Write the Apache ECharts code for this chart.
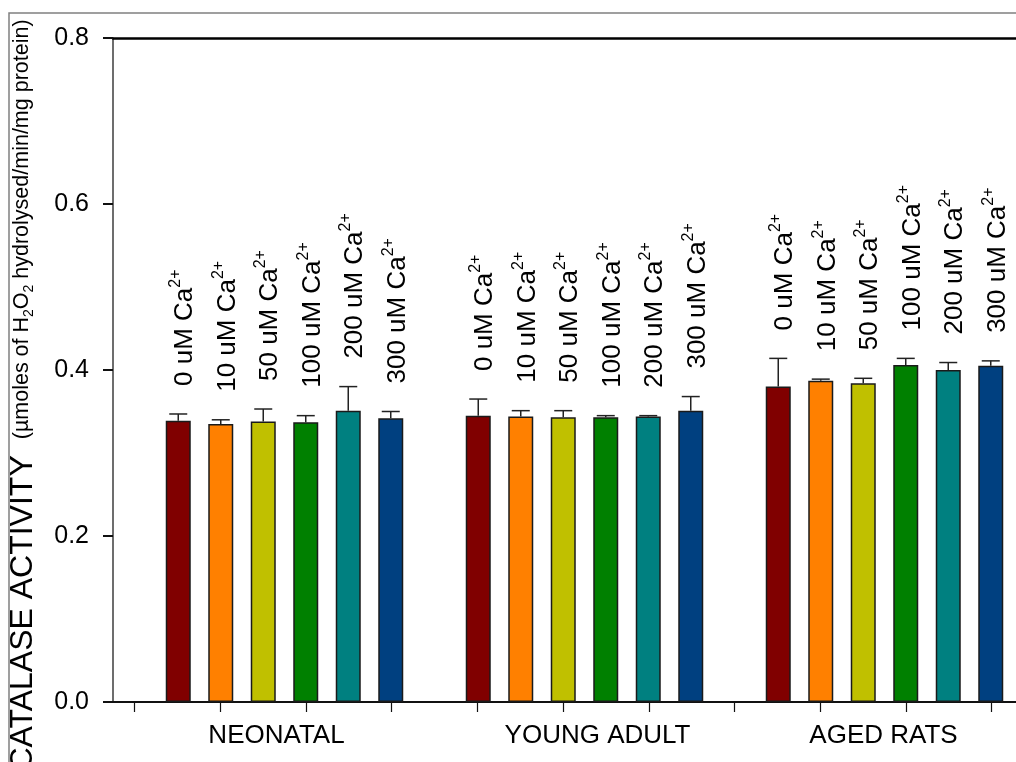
<!DOCTYPE html>
<html>
<head>
<meta charset="utf-8">
<title>Catalase activity</title>
<script src="https://cdn.jsdelivr.net/npm/echarts@6/dist/echarts.min.js"></script>
<style>
html, body { margin: 0; padding: 0; background: #fff; }
#chart { width: 1016px; height: 762px; }
</style>
</head>
<body>
<div id="chart"></div>
<script>
// age groups on the x axis
var groups = ["NEONATAL", "YOUNG ADULT", "AGED RATS"];
// Ca2+ concentrations (uM), one bar each inside a group
var concs = ["0", "10", "50", "100", "200", "300"];
var colors = ["#800000", "#FF8000", "#C0C000", "#008000", "#008080", "#004080"];

// mean activity per concentration: [neonatal, young adult, aged]
var ca0 = [0.339, 0.345, 0.380];
var ca10 = [0.335, 0.344, 0.387];
var ca50 = [0.338, 0.343, 0.384];
var ca100 = [0.337, 0.343, 0.406];
var ca200 = [0.351, 0.344, 0.400];
var ca300 = [0.342, 0.351, 0.405];

// upper error bars
var err0 = [0.008, 0.020, 0.034];
var err10 = [0.005, 0.007, 0.002];
var err50 = [0.015, 0.008, 0.006];
var err100 = [0.008, 0.002, 0.008];
var err200 = [0.029, 0.001, 0.009];
var err300 = [0.008, 0.017, 0.006];

// tick marks along the bottom axis
var xTickValues = [0, 1, 2, 3, 4, 5, 6, 7, 8, 9, 10];

var means = [ca0, ca10, ca50, ca100, ca200, ca300];
var errs = [err0, err10, err50, err100, err200, err300];

var barW = 25;
var barGap = 0.7;
var step = barW * (1 + barGap);
var font = "'Liberation Sans', Arial, sans-serif";
// the group names are not quite centred under their bars
var labelPad = [[0, 16, 0, 0], [0, 0, 0, 26], [0, 2, 0, 0]];

let chartDom = document.getElementById("chart");
let myChart = echarts.init(chartDom);

let series = concs.map(function (c, i) {
  return {
    name: c + " uM Ca2+",
    type: "bar",
    xAxisIndex: 2,
    yAxisIndex: 1,
    barWidth: barW,
    barGap: barGap * 100 + "%",
    itemStyle: { color: colors[i], borderColor: "#1a1a1a", borderWidth: 1.5 },
    data: means[i],
    z: 2
  };
});

let errData = [];
for (let i = 0; i < concs.length; i++) {
  for (let g = 0; g < groups.length; g++) {
    errData.push([g, i, means[i][g], means[i][g] + errs[i][g]]);
  }
}

series.push({
  type: "custom",
  xAxisIndex: 2,
  yAxisIndex: 1,
  z: 5,
  data: errData,
  encode: { x: 0, y: 3 },
  renderItem: function (params, api) {
    let g = api.value(0);
    let i = api.value(1);
    let base = api.coord([g, api.value(2)]);
    let top = api.coord([g, api.value(3)]);
    let x = base[0] + (i - 2.5) * step;
    let cap = 9;
    return {
      type: "group",
      children: [
        { type: "line", shape: { x1: x, y1: base[1], x2: x, y2: top[1] },
          style: { stroke: "#222", lineWidth: 1.5 } },
        { type: "line", shape: { x1: x - cap, y1: top[1], x2: x + cap, y2: top[1] },
          style: { stroke: "#222", lineWidth: 1.5 } },
        {
          type: "text",
          x: x + 7,
          y: top[1] - 28,
          rotation: Math.PI / 2,
          style: {
            text: "{t|" + concs[i] + " uM Ca}{s|2+}",
            align: "left",
            verticalAlign: "middle",
            rich: {
              t: { fontSize: 26, fontFamily: font, fill: "#000", lineHeight: 35 },
              s: { fontSize: 16, fontFamily: font, fill: "#000", lineHeight: 16, verticalAlign: "top" }
            }
          }
        }
      ]
    };
  }
});

let option = {
  animation: false,
  textStyle: { fontFamily: font, color: "#000" },
  graphic: [
    {
      type: "rect",
      silent: true,
      shape: { x: 9, y: 13, width: 1200, height: 900 },
      style: { fill: "none", stroke: "#808080", lineWidth: 1.5 }
    }
  ],
  grid: [
    { left: 113, top: 38, width: 921.5, bottom: 60, outerBoundsMode: "none", containLabel: false },
    { left: 134.5, top: 38, width: 900, bottom: 60, outerBoundsMode: "none", containLabel: false }
  ],
  xAxis: [
    {
      gridIndex: 0,
      type: "value",
      min: -0.25,
      max: 10.5,
      position: "bottom",
      axisLine: { show: true, onZero: false, lineStyle: { color: "#111", width: 2 } },
      axisTick: { show: true, length: 10, customValues: xTickValues, lineStyle: { color: "#111", width: 1.2 } },
      axisLabel: { show: false },
      splitLine: { show: false }
    },
    {
      gridIndex: 0,
      type: "value",
      min: -0.25,
      max: 10.5,
      position: "top",
      axisLine: { show: true, onZero: false, lineStyle: { color: "#000", width: 2.5 } },
      axisTick: { show: false },
      axisLabel: { show: false },
      splitLine: { show: false }
    },
    {
      gridIndex: 1,
      type: "category",
      data: groups.map(function (g, k) {
        return { value: g, textStyle: { padding: labelPad[k] } };
      }),
      axisLine: { show: false },
      axisTick: { show: false },
      axisLabel: { fontSize: 26, color: "#000", margin: 21, fontFamily: font }
    }
  ],
  yAxis: [
    {
      gridIndex: 0,
      type: "value",
      min: 0,
      max: 0.8,
      interval: 0.2,
      axisLine: { show: true, onZero: false, lineStyle: { color: "#3c3c3c", width: 1.5 } },
      axisTick: { show: true, length: 10, lineStyle: { color: "#111", width: 2 } },
      axisLabel: {
        fontSize: 25,
        color: "#000",
        margin: 24,
        fontFamily: font,
        formatter: function (v) { return v.toFixed(1); }
      },
      splitLine: { show: false },
      name: "{big|CATALASE ACTIVITY}{lp|(µmoles of H}{sub|2}{sm|O}{sub|2}{sm| hydrolysed/min/mg protein)}",
      nameLocation: "middle",
      nameRotate: 90,
      nameGap: 74,
      nameTextStyle: {
        padding: [0, 50, 0, 0],
        rich: {
          big: { fontSize: 32, fontFamily: font, color: "#000", lineHeight: 32, verticalAlign: "bottom" },
          lp: { fontSize: 21.5, fontFamily: font, color: "#000", lineHeight: 21, verticalAlign: "bottom", padding: [0, 0, 6, 16] },
          sm: { fontSize: 21.5, fontFamily: font, color: "#000", lineHeight: 21, verticalAlign: "bottom", padding: [0, 0, 6, 0] },
          sub: { fontSize: 14, fontFamily: font, color: "#000", lineHeight: 11, verticalAlign: "bottom", padding: [0, 0, 3, 0] }
        }
      }
    },
    {
      gridIndex: 1,
      type: "value",
      min: 0,
      max: 0.8,
      show: false
    }
  ],
  series: series
};

myChart.setOption(option);
</script>
</body>
</html>
